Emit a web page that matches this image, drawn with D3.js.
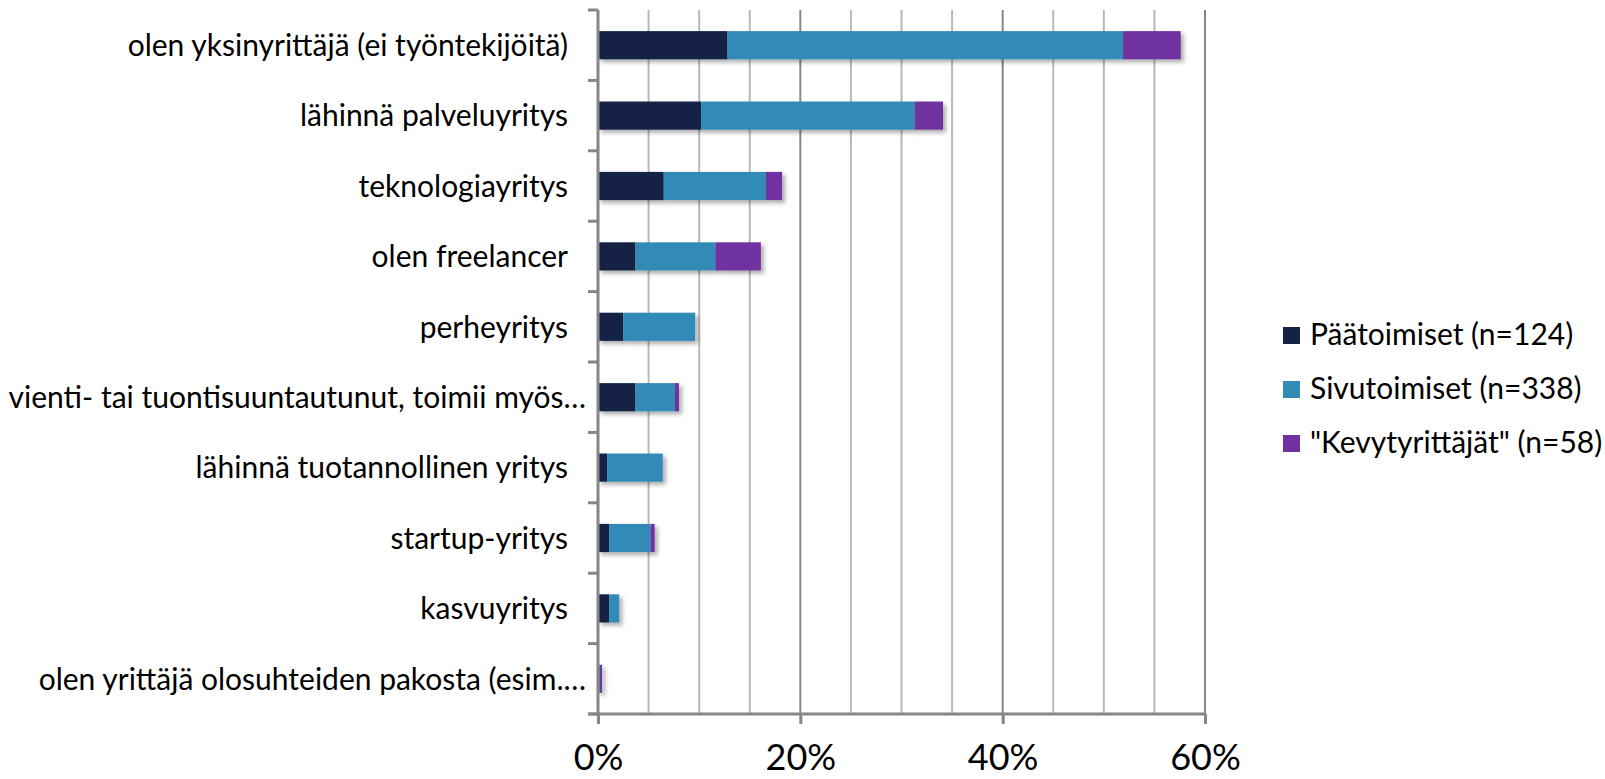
<!DOCTYPE html>
<html>
<head>
<meta charset="utf-8">
<script src="https://cdn.jsdelivr.net/npm/d3@7"></script>
<style>
  html, body { margin: 0; padding: 0; background: #fff; }
  svg { display: block; font-family: Lato, "Noto Sans", sans-serif; }
</style>
</head>
<body>
<svg id="chart" width="1605" height="779"></svg>
<script>
const categories = [
  "olen yksinyrittäjä (ei työntekijöitä)",
  "lähinnä palveluyritys",
  "teknologiayritys",
  "olen freelancer",
  "perheyritys",
  "vienti- tai tuontisuuntautunut, toimii myös…",
  "lähinnä tuotannollinen yritys",
  "startup-yritys",
  "kasvuyritys",
  "olen yrittäjä olosuhteiden pakosta (esim.…"
];
const seriesNames = ["Päätoimiset (n=124)", "Sivutoimiset (n=338)", "\"Kevytyrittäjät\" (n=58)"];
const paatoimiset = [12.8, 10.2, 6.5, 3.7, 2.5, 3.7, 0.9, 1.1, 1.1, 0.0];
const sivutoimiset = [39.1, 21.1, 10.1, 7.9, 7.1, 3.9, 5.5, 4.1, 1.0, 0.2];
const kevyt = [5.7, 2.8, 1.6, 4.5, 0.0, 0.4, 0.0, 0.4, 0.0, 0.2];
const xTicks = [0, 20, 40, 60];
const gridTicks = [5, 10, 15, 20, 25, 30, 35, 40, 45, 50, 55, 60];
const colors = ["#142244", "#338bb6", "#7030a0"];

const rows = categories.map((c, i) => ({cat: c, s0: paatoimiset[i], s1: sivutoimiset[i], s2: kevyt[i]}));
const keys = ["s0", "s1", "s2"];
const stacked = d3.stack().keys(keys)(rows);

const svg = d3.select("#chart");
const x = d3.scaleLinear().domain([0, 60]).range([598, 1205]);
const y = d3.scaleBand().domain(categories).range([10, 714]).paddingInner(0.6).paddingOuter(0.3);

const defs = svg.append("defs");
const f = defs.append("filter").attr("id", "shadow").attr("x", "-10%").attr("y", "-30%").attr("width", "130%").attr("height", "190%");
f.append("feDropShadow").attr("dx", 3).attr("dy", 3).attr("stdDeviation", 2.2).attr("flood-color", "#000").attr("flood-opacity", 0.32);

// gridlines
svg.append("g").selectAll("line").data(gridTicks).join("line")
  .attr("x1", d => x(d)).attr("x2", d => x(d))
  .attr("y1", 10).attr("y2", 714)
  .attr("stroke", d => d % 20 === 0 ? "#868686" : "#b8b8b8")
  .attr("stroke-width", 2);

// bars
const barG = svg.append("g");
stacked.forEach((layer, li) => {
  barG.append("g").attr("filter", "url(#shadow)").selectAll("rect").data(layer).join("rect")
    .attr("x", d => x(d[0]))
    .attr("y", d => y(d.data.cat))
    .attr("width", d => Math.max(0, x(d[1]) - x(d[0])))
    .attr("height", y.bandwidth())
    .attr("fill", colors[li]);
});

// y axis line
svg.append("line").attr("x1", 598).attr("x2", 598).attr("y1", 10).attr("y2", 714)
  .attr("stroke", "#868686").attr("stroke-width", 3);
// category boundary ticks
const boundY = d3.range(categories.length + 1).map(i =>
  i === 0 ? 10 : (i === categories.length ? 714 : y(categories[i]) - y.step() * y.paddingInner() / 2));
svg.append("g").selectAll("line").data(boundY).join("line")
  .attr("x1", 588).attr("x2", 598).attr("y1", d => d).attr("y2", d => d)
  .attr("stroke", "#868686").attr("stroke-width", 3);

// category labels
svg.append("g").selectAll("text").data(categories).join("text")
  .attr("x", d => d.endsWith("…") ? 586 : 568)
  .attr("y", d => y(d) + y.bandwidth() / 2)
  .attr("dy", "0.36em")
  .attr("text-anchor", "end")
  .attr("font-size", 30)
  .attr("fill", "#000")
  .text(d => d);

// x axis
const xAxis = d3.axisBottom(x).tickValues(xTicks).tickSize(10).tickFormat(d => d + "%");
const xg = svg.append("g").attr("transform", "translate(0,714)").call(xAxis);
xg.select(".domain").remove();
xg.selectAll(".tick line").attr("stroke", "#868686").attr("stroke-width", 3);
xg.selectAll(".tick text").attr("font-size", 36).attr("fill", "#000").attr("font-family", "Lato, sans-serif").attr("y", 30).attr("dy", "0.71em");
svg.append("line").attr("x1", 588).attr("x2", 1205).attr("y1", 714).attr("y2", 714)
  .attr("stroke", "#868686").attr("stroke-width", 3);

// legend
const lg = svg.append("g").selectAll("g").data(seriesNames).join("g")
  .attr("transform", (d, i) => `translate(1283,${327 + i * 54})`);
lg.append("rect").attr("width", 17).attr("height", 17).attr("fill", (d, i) => colors[i]);
lg.append("text").attr("x", 27).attr("y", 18).attr("font-size", 30).attr("fill", "#000").text(d => d);
</script>
</body>
</html>
